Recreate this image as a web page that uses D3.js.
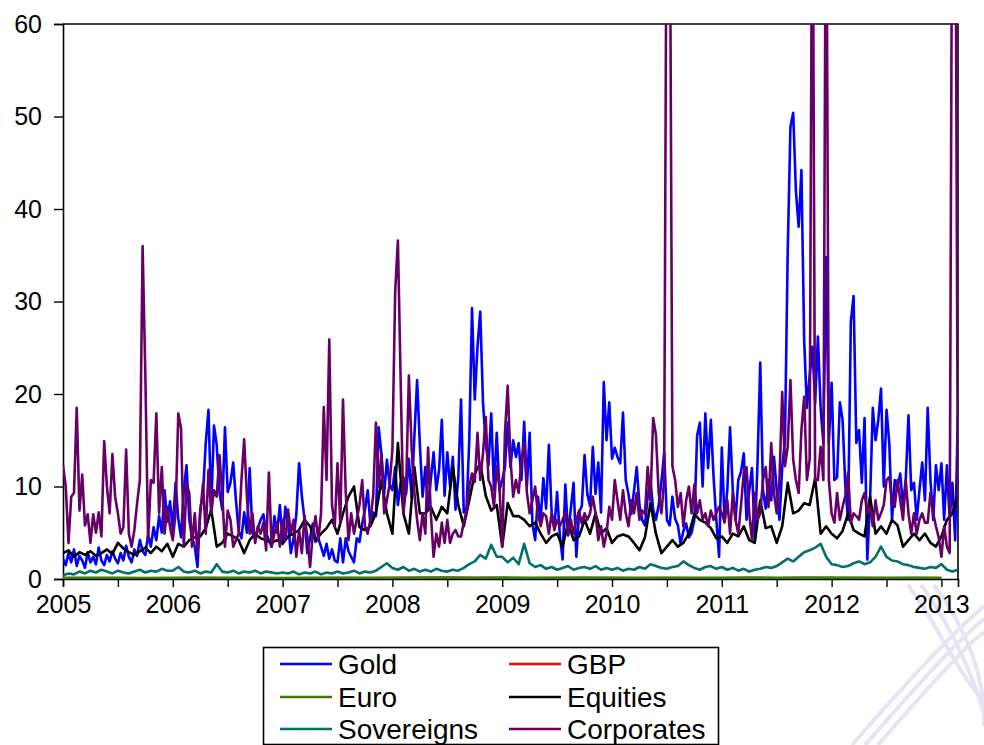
<!DOCTYPE html>
<html>
<head>
<meta charset="utf-8">
<script src="https://cdn.jsdelivr.net/npm/d3@7"></script>
<style>
  html, body { margin: 0; padding: 0; background: #ffffff; }
  svg { display: block; font-family: "Liberation Sans", Arial, Helvetica, sans-serif; }
</style>
</head>
<body>
<svg id="chart" width="984" height="745"></svg>
<script>
// Daily volatility-style series, sampled on an even grid starting at 2005.0
const startYear = 2005;
const fineStep = 1 / 40;    // Gold and Corporates
const coarseStep = 1 / 20;  // Equities and Sovereigns
const quarterStep = 1 / 4;  // Euro and GBP

const yearTicks = [2005, 2006, 2007, 2008, 2009, 2010, 2011, 2012, 2013];
const valueTicks = [0, 10, 20, 30, 40, 50, 60];

const gold = [
  // 2005
  2.2, 1.5, 2.8, 1.8, 3.2, 1.4, 2.5, 2.0, 1.2, 2.9, 1.8, 2.4, 1.6, 3.4, 2.0, 1.5, 2.6, 1.9, 3.0, 2.2,
  1.7, 2.8, 2.0, 3.6, 2.4, 1.8, 3.2, 2.5, 4.2, 3.0, 2.6, 4.8, 3.5, 5.6, 4.2, 6.8, 5.0, 9.6, 6.2, 8.4,
  // 2006
  5.3, 10.4, 6.5, 4.5, 9.6, 12.3, 6.4, 4.5, 3.5, 1.3, 7.5, 9.2, 14.7, 18.3, 7.6, 16.6, 14.5, 9.4, 7.5, 16.4,
  9.4, 10.4, 12.6, 8.5, 5.2, 4.4, 7.2, 5.0, 12.0, 5.0, 4.3, 5.5, 6.4, 7.0, 5.0, 4.2, 3.5, 6.8, 5.0, 8.0,
  // 2007
  4.0, 7.8, 6.0, 2.8, 4.4, 7.0, 12.5, 9.0, 6.4, 2.8, 4.4, 6.0, 4.0, 4.4, 3.5, 2.5, 3.8, 2.2, 3.2, 2.0,
  1.8, 4.4, 1.8, 4.4, 3.0, 2.4, 1.8, 4.4, 4.0, 6.0, 7.5, 9.6, 5.8, 7.2, 6.8, 16.4, 13.5, 9.2, 12.9, 10.2,
  // 2008
  9.6, 12.1, 8.0, 10.4, 11.0, 9.2, 13.0, 8.8, 15.4, 21.5, 14.5, 8.9, 12.1, 7.6, 10.8, 13.7, 9.6, 11.8, 17.2, 9.0,
  13.7, 10.0, 13.2, 7.5, 11.0, 19.4, 7.2, 7.6, 15.0, 29.3, 19.4, 25.1, 28.9, 19.1, 14.7, 12.3, 17.9, 9.6, 15.8, 9.6,
  // 2009
  10.7, 12.1, 16.9, 12.1, 15.0, 13.2, 14.7, 10.7, 17.0, 10.0, 15.8, 6.0, 4.2, 8.9, 6.4, 10.9, 7.6, 14.5, 7.2, 5.6,
  9.4, 4.7, 2.1, 10.2, 4.7, 7.6, 10.4, 2.4, 7.2, 7.9, 13.4, 9.2, 7.9, 14.3, 9.2, 12.6, 7.2, 21.3, 15.0, 19.1,
  // 2010
  13.0, 14.2, 13.2, 12.5, 18.0, 10.7, 9.2, 7.0, 9.5, 12.1, 8.0, 6.4, 5.8, 8.9, 10.7, 7.5, 6.4, 8.0, 10.5, 13.7,
  6.4, 5.8, 8.9, 6.5, 5.8, 3.8, 5.2, 6.0, 4.5, 5.0, 6.4, 15.5, 16.9, 10.0, 17.9, 12.0, 17.2, 11.0, 6.4, 2.4,
  // 2011
  14.2, 6.4, 9.6, 16.4, 9.6, 6.4, 10.7, 11.6, 13.6, 6.4, 9.6, 12.0, 4.2, 12.5, 23.4, 9.6, 7.6, 10.7, 8.5, 13.2,
  9.6, 6.4, 12.1, 15.0, 35.3, 48.9, 50.4, 41.9, 38.1, 44.2, 25.8, 18.5, 22.0, 25.1, 19.0, 26.2, 18.5, 14.7, 34.8, 14.7,
  // 2012
  21.2, 10.7, 11.0, 19.1, 17.2, 10.0, 6.4, 27.8, 30.6, 14.7, 16.1, 10.4, 17.4, 2.1, 8.5, 18.5, 15.0, 17.2, 20.6, 10.0,
  18.3, 14.7, 6.4, 10.7, 10.0, 11.4, 7.9, 10.7, 17.7, 9.6, 10.4, 6.4, 9.6, 12.6, 8.5, 18.5, 10.7, 6.4, 12.3, 9.6,
  // 2013
  12.5, 6.4, 12.3, 6.4, 10.4, 4.2, 17.9
];

const corporates = [
  // 2005
  12.3, 10.0, 3.9, 8.9, 9.3, 18.5, 7.4, 11.3, 5.8, 7.0, 3.9, 7.0, 5.0, 7.2, 4.6, 14.9, 10.0, 7.1, 13.5, 8.9,
  7.1, 4.9, 5.6, 14.0, 4.9, 3.5, 5.3, 8.2, 10.7, 36.0, 22.0, 4.2, 10.7, 10.4, 17.9, 7.1, 12.1, 4.9, 7.8, 5.6,
  // 2006
  4.2, 7.1, 17.9, 16.3, 3.5, 10.3, 9.3, 3.5, 7.1, 2.8, 7.1, 10.3, 4.9, 11.8, 7.1, 9.6, 8.9, 13.4, 9.3, 3.5,
  7.4, 6.4, 3.5, 4.2, 4.9, 10.7, 15.1, 8.9, 4.9, 7.1, 3.9, 5.7, 4.9, 6.1, 3.1, 11.5, 3.5, 4.9, 6.1, 3.5,
  // 2007
  6.4, 4.2, 7.5, 4.9, 6.4, 2.4, 5.3, 2.8, 6.8, 4.6, 1.3, 4.9, 6.8, 4.2, 7.1, 18.6, 10.7, 25.9, 8.0, 5.7,
  12.5, 6.1, 19.4, 9.3, 4.2, 7.1, 4.9, 6.4, 8.0, 10.7, 5.7, 4.9, 6.4, 9.0, 16.9, 10.0, 13.6, 7.1, 8.5, 10.3,
  // 2008
  14.0, 31.0, 36.6, 21.5, 7.1, 9.9, 22.0, 14.2, 9.3, 6.4, 4.2, 7.1, 4.9, 14.2, 7.1, 2.4, 4.9, 3.5, 6.1, 3.9,
  6.4, 3.9, 4.9, 5.3, 4.6, 4.6, 6.1, 7.4, 10.0, 11.4, 10.5, 15.8, 10.7, 13.6, 17.5, 10.7, 10.0, 7.8, 12.2, 10.0,
  // 2009
  3.5, 15.8, 20.9, 13.0, 8.9, 10.7, 9.3, 12.8, 14.7, 9.3, 7.1, 8.5, 10.0, 7.1, 5.7, 7.1, 6.8, 4.9, 7.1, 5.3,
  6.4, 5.7, 6.4, 7.1, 4.9, 6.4, 4.9, 6.4, 7.4, 6.0, 7.1, 6.4, 7.1, 8.9, 7.1, 4.2, 5.7, 3.5, 4.9, 7.8,
  // 2010
  6.4, 10.7, 8.5, 6.4, 9.6, 7.1, 5.7, 8.5, 7.1, 9.3, 6.4, 7.4, 7.0, 12.1, 8.5, 17.4, 15.6, 9.3, 7.1, 10.7,
  85.0, 80.0, 12.2, 10.7, 7.8, 9.3, 5.7, 8.5, 10.0, 7.1, 10.2, 7.1, 8.5, 6.4, 7.1, 5.7, 7.4, 6.4, 7.1, 7.8,
  // 2011
  7.1, 6.1, 8.5, 4.9, 9.3, 6.4, 4.9, 8.0, 11.5, 12.1, 7.1, 4.2, 9.3, 6.4, 7.1, 10.7, 12.1, 7.8, 14.7, 9.3,
  7.1, 10.7, 20.2, 12.2, 14.3, 21.5, 12.9, 10.7, 9.3, 16.1, 19.7, 10.7, 12.9, 85.0, 10.7, 10.7, 14.3, 10.7, 85.0, 10.7,
  // 2012
  7.1, 6.1, 9.3, 6.4, 7.8, 9.0, 11.5, 6.1, 7.1, 6.8, 6.4, 8.5, 9.3, 7.1, 7.8, 5.7, 8.5, 6.4, 7.1, 8.0,
  10.7, 11.0, 8.5, 7.8, 10.7, 8.5, 6.4, 10.7, 7.1, 4.9, 7.1, 4.9, 6.4, 7.1, 6.1, 6.1, 9.3, 7.1, 5.7, 4.5,
  // 2013
  2.4, 5.7, 3.5, 2.8, 85.0, 85.0, 8.0
];

const equities = [
  2.8, 3.1, 2.4, 2.9, 2.6, 3.0, 2.5, 2.8, 3.2, 2.7, 3.9, 3.3, 2.9, 2.6, 3.0, 3.4, 2.8, 3.5, 3.0, 3.8,
  2.4, 3.8, 3.5, 4.2, 4.5, 4.6, 5.5, 7.5, 3.5, 3.9, 4.9, 4.6, 4.2, 2.8, 4.2, 4.9, 4.4, 4.2, 3.9, 4.2,
  3.8, 4.6, 4.9, 5.3, 6.4, 5.7, 4.2, 4.9, 5.5, 6.4, 4.9, 7.1, 8.9, 10.0, 5.6, 5.3, 5.7, 7.1, 10.7, 7.1,
  4.9, 14.7, 7.1, 4.9, 12.1, 7.1, 7.1, 7.8, 6.4, 7.8, 7.1, 12.1, 8.0, 5.7, 8.5, 11.4, 12.5, 9.0, 7.4, 8.0,
  3.5, 8.2, 6.8, 6.8, 6.4, 5.7, 6.1, 4.9, 3.9, 4.6, 4.9, 3.5, 6.1, 4.2, 4.6, 6.4, 4.9, 7.1, 4.9, 5.5,
  3.9, 4.6, 4.8, 4.6, 3.9, 3.1, 4.5, 8.2, 4.9, 2.8, 3.5, 4.2, 3.5, 3.9, 4.9, 7.0, 6.4, 6.1, 5.5, 4.4,
  4.6, 3.9, 4.9, 4.6, 5.7, 4.2, 3.9, 8.5, 5.5, 5.7, 3.9, 5.7, 10.4, 7.1, 7.4, 8.2, 8.0, 10.9, 4.9, 5.7,
  4.9, 4.4, 5.2, 7.1, 5.3, 4.9, 4.6, 8.9, 4.9, 5.7, 4.9, 6.4, 5.8, 3.5, 4.2, 4.9, 4.2, 4.9, 3.9, 3.5,
  4.6, 6.4, 7.1, 8.9
];

const sovereigns = [
  0.4, 0.6, 0.5, 0.8, 0.6, 0.9, 0.7, 1.0, 0.8, 0.6, 0.9, 0.7, 0.6, 0.8, 1.0, 0.7, 0.9, 0.8, 1.1, 0.9,
  0.9, 1.3, 0.8, 0.7, 0.9, 0.6, 0.8, 0.7, 1.6, 0.8, 0.7, 0.9, 0.6, 0.8, 0.7, 0.9, 0.6, 0.8, 0.7, 0.6,
  0.7, 0.6, 0.8, 0.5, 0.7, 0.6, 0.8, 0.5, 0.7, 0.6, 0.8, 0.6, 0.7, 0.9, 0.6, 0.8, 0.7, 0.9, 1.3, 1.7,
  1.2, 1.0, 1.3, 0.9, 1.1, 0.8, 1.0, 0.8, 1.1, 0.9, 0.8, 1.0, 0.9, 1.2, 1.6, 1.9, 2.6, 2.2, 3.7, 2.4,
  2.4, 1.8, 2.3, 1.6, 3.8, 1.7, 1.3, 1.5, 1.1, 1.3, 1.0, 1.2, 1.4, 1.0, 1.2, 1.3, 1.1, 1.4, 1.0, 1.2,
  1.0, 1.2, 0.9, 1.1, 1.0, 1.3, 1.1, 1.6, 1.4, 1.2, 1.1, 1.3, 1.4, 1.9, 1.5, 1.2, 1.0, 1.3, 1.4, 1.1,
  1.3, 1.0, 1.2, 0.9, 1.1, 0.8, 1.0, 1.1, 1.3, 1.2, 1.4, 1.8, 2.2, 1.9, 2.4, 2.9, 3.1, 3.4, 3.8, 2.4,
  1.6, 1.5, 1.3, 1.4, 1.7, 1.9, 1.6, 1.8, 2.4, 3.5, 2.4, 2.0, 1.9, 1.6, 1.5, 1.3, 1.2, 1.1, 1.3, 1.2,
  1.6, 1.0, 0.8, 1.0
];

const euro = [
  0.12, 0.10, 0.11, 0.09, 0.10, 0.12, 0.11, 0.10, 0.09, 0.10, 0.11, 0.10, 0.12, 0.13, 0.14, 0.12,
  0.13, 0.12, 0.11, 0.13, 0.12, 0.11, 0.12, 0.10, 0.11, 0.13, 0.12, 0.14, 0.13, 0.12, 0.11, 0.12, 0.11
];

const gbp = [
  0.08, 0.07, 0.08, 0.07, 0.08, 0.09, 0.08, 0.07, 0.07, 0.08, 0.09, 0.08, 0.10, 0.11, 0.12, 0.10,
  0.09, 0.08, 0.09, 0.08, 0.09, 0.08, 0.09, 0.08, 0.08, 0.09, 0.08, 0.09, 0.08, 0.09, 0.08, 0.09, 0.08
];

const seriesNames = ["Gold", "GBP", "Euro", "Equities", "Sovereigns", "Corporates"];
const seriesColors = ["#0000ff", "#ff0000", "#3f7a00", "#000000", "#007068", "#660066"];

// Attach dates to each sampled series
function withDates(values, step) {
  return values.map((v, i) => ({ t: startYear + i * step, v }));
}
const seriesData = [
  { name: "Gold", pts: withDates(gold, fineStep), width: 2.6 },
  { name: "GBP", pts: withDates(gbp, quarterStep), width: 2.6 },
  { name: "Euro", pts: withDates(euro, quarterStep), width: 3 },
  { name: "Equities", pts: withDates(equities, coarseStep), width: 2.6 },
  { name: "Sovereigns", pts: withDates(sovereigns, coarseStep), width: 2.6 },
  { name: "Corporates", pts: withDates(corporates, fineStep), width: 2.6 }
];

const svg = d3.select("#chart");
const plot = { left: 63, right: 958, top: 24, bottom: 579 };

const x = d3.scaleLinear().domain([2005, 2013.151]).range([plot.left, plot.right]);
const y = d3.scaleLinear().domain([0, 60]).range([plot.bottom, plot.top]);
const color = d3.scaleOrdinal().domain(seriesNames).range(seriesColors);

// Faint decorative strokes in the lower-right corner
const deco = svg.append("g").attr("fill", "none").attr("stroke", "#e6e3f4").attr("stroke-width", 4);
[0, 13, 26].forEach(o => {
  deco.append("path").attr("d", `M${852 + o},745 C${900 + o},690 ${940 + o},645 ${984},${606 + o}`);
  deco.append("path").attr("d", `M${908 + o},585 C${940 + o},628 ${960 + o},678 ${984},${700 + o}`);
});

svg.append("defs").append("clipPath").attr("id", "plotClip")
  .append("rect")
  .attr("x", plot.left).attr("y", plot.top)
  .attr("width", plot.right - plot.left).attr("height", plot.bottom - plot.top);

// Frame: top and right edges
svg.append("path")
  .attr("d", `M${plot.left},${plot.top}H${plot.right}V${plot.bottom}`)
  .attr("fill", "none").attr("stroke", "#000").attr("stroke-width", 1.6);

// Axes
const halfYears = d3.range(2005, 2013.01, 0.5);
const xAxis = svg.append("g")
  .attr("transform", `translate(0,${plot.bottom})`)
  .call(d3.axisBottom(x).tickValues(halfYears).tickSize(8).tickPadding(8)
    .tickFormat(d => Number.isInteger(d) ? d3.format("d")(d) : ""));
const yAxis = svg.append("g")
  .attr("transform", `translate(${plot.left},0)`)
  .call(d3.axisLeft(y).tickValues(valueTicks).tickSize(9).tickPadding(12));

[xAxis, yAxis].forEach(g => {
  g.select(".domain").attr("stroke", "#000").attr("stroke-width", 1.6);
  g.selectAll(".tick line").attr("stroke", "#000").attr("stroke-width", 1.4);
  g.selectAll(".tick text").attr("fill", "#000").attr("font-size", 25)
    .attr("font-family", "'Liberation Sans', Arial, sans-serif");
});

// Series lines
const line = d3.line().x(d => x(d.t)).y(d => y(d.v));
svg.append("g").attr("clip-path", "url(#plotClip)")
  .selectAll("path")
  .data(seriesData)
  .join("path")
  .attr("d", d => line(d.pts))
  .attr("fill", "none")
  .attr("stroke", d => color(d.name))
  .attr("stroke-width", d => d.width)
  .attr("stroke-linejoin", "round");

// Legend
const legend = svg.append("g");
legend.append("rect")
  .attr("x", 263.5).attr("y", 647.5).attr("width", 455).attr("height", 97)
  .attr("fill", "#fff").attr("stroke", "#000").attr("stroke-width", 1.6);

const legendCols = [280, 509];
const legendRows = [664, 697, 729];
const items = legend.selectAll("g.item")
  .data(seriesNames)
  .join("g")
  .attr("class", "item")
  .attr("transform", (d, i) => `translate(${legendCols[i % 2]},${legendRows[Math.floor(i / 2)]})`);
items.append("line")
  .attr("x1", 0).attr("x2", 52).attr("y1", 0).attr("y2", 0)
  .attr("stroke", d => color(d)).attr("stroke-width", 2.4);
items.append("text")
  .attr("x", 58).attr("y", 0).attr("dy", "0.36em")
  .attr("font-size", 28).attr("fill", "#000")
  .text(d => d);
</script>
</body>
</html>
